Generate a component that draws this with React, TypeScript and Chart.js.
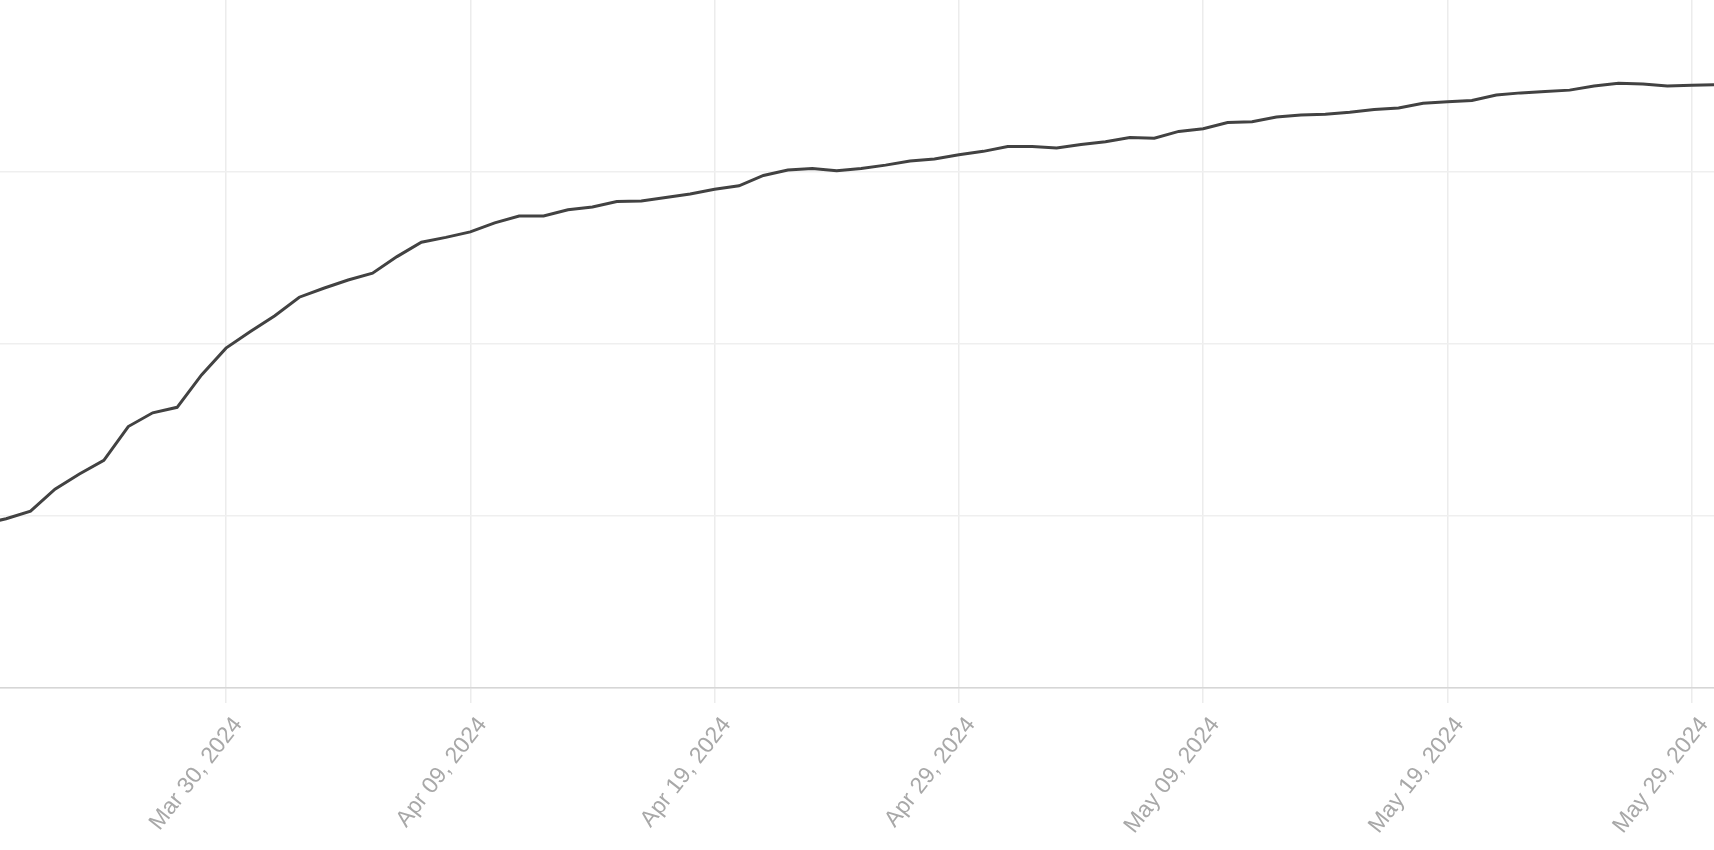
import React, { useEffect, useRef } from "react";
import { Chart, registerables } from "chart.js";

Chart.register(...registerables);

const dates: string[] = [
  "2024-03-20", "2024-03-21", "2024-03-22", "2024-03-23", "2024-03-24", "2024-03-25", "2024-03-26", "2024-03-27", "2024-03-28", "2024-03-29",
  "2024-03-30", "2024-03-31", "2024-04-01", "2024-04-02", "2024-04-03", "2024-04-04", "2024-04-05", "2024-04-06", "2024-04-07", "2024-04-08",
  "2024-04-09", "2024-04-10", "2024-04-11", "2024-04-12", "2024-04-13", "2024-04-14", "2024-04-15", "2024-04-16", "2024-04-17", "2024-04-18",
  "2024-04-19", "2024-04-20", "2024-04-21", "2024-04-22", "2024-04-23", "2024-04-24", "2024-04-25", "2024-04-26", "2024-04-27", "2024-04-28",
  "2024-04-29", "2024-04-30", "2024-05-01", "2024-05-02", "2024-05-03", "2024-05-04", "2024-05-05", "2024-05-06", "2024-05-07", "2024-05-08",
  "2024-05-09", "2024-05-10", "2024-05-11", "2024-05-12", "2024-05-13", "2024-05-14", "2024-05-15", "2024-05-16", "2024-05-17", "2024-05-18",
  "2024-05-19", "2024-05-20", "2024-05-21", "2024-05-22", "2024-05-23", "2024-05-24", "2024-05-25", "2024-05-26", "2024-05-27", "2024-05-28",
  "2024-05-29", "2024-05-30",
];

const values: number[] = [
  23.8, 24.6, 25.7, 28.9, 31.1, 33.1, 38.0, 40.0, 40.8, 45.5,
  49.4, 51.8, 54.1, 56.8, 58.1, 59.3, 60.3, 62.7, 64.8, 65.5,
  66.3, 67.6, 68.6, 68.6, 69.5, 69.9, 70.7, 70.8, 71.3, 71.8,
  72.5, 73.0, 74.5, 75.3, 75.5, 75.2, 75.5, 76.0, 76.6, 76.9,
  77.5, 78.0, 78.7, 78.7, 78.5, 79.0, 79.4, 80.0, 79.9, 80.9,
  81.3, 82.2, 82.3, 83.0, 83.3, 83.4, 83.7, 84.1, 84.3, 85.0,
  85.2, 85.4, 86.2, 86.5, 86.7, 86.9, 87.5, 87.9, 87.8, 87.5,
  87.6, 87.7,
];

const tickDates: string[] = [
  "2024-03-30", "2024-04-09", "2024-04-19", "2024-04-29", "2024-05-09", "2024-05-19", "2024-05-29",
];
const tickLabels: string[] = [
  "Mar 30, 2024", "Apr 09, 2024", "Apr 19, 2024", "Apr 29, 2024", "May 09, 2024", "May 19, 2024", "May 29, 2024",
];

const yTicks: number[] = [0, 25, 50, 75];

const DAY = 86400000;
const t0 = Date.parse(dates[0]);
const dayOf = (d: string) => Math.round((Date.parse(d) - t0) / DAY);

export default function App() {
  const ref = useRef<HTMLCanvasElement | null>(null);

  useEffect(() => {
    if (!ref.current) return;
    const points = dates.map((d, i) => ({ x: dayOf(d), y: values[i] }));
    const tickDays = tickDates.map(dayOf);
    const chart = new Chart(ref.current, {
      type: "line",
      data: {
        datasets: [
          {
            data: points,
            borderColor: "#424242",
            borderWidth: 3,
            pointRadius: 0,
            tension: 0,
            fill: false,
          },
        ],
      },
      options: {
        animation: false,
        responsive: false,
        events: [],
        layout: { padding: 0 },
        plugins: { legend: { display: false }, tooltip: { enabled: false } },
        scales: {
          x: {
            type: "linear",
            min: 0.75,
            max: 70.91,
            afterBuildTicks: (scale: any) => {
              scale.ticks = tickDays.map((v) => ({ value: v }));
            },
            afterFit: (scale: any) => {
              scale.height = 162;
              scale.paddingLeft = 0;
              scale.paddingRight = 0;
            },
            grid: {
              color: "#ececec",
              lineWidth: 1.5,
              drawTicks: true,
              tickLength: 15,
            },
            border: { display: true, color: "#d6d6d6", width: 1.5 },
            ticks: {
              autoSkip: false,
              minRotation: 52,
              maxRotation: 52,
              color: "#a8a8a8",
              padding: 9,
              labelOffset: 12,
              font: { family: "'Liberation Sans', Arial, Helvetica, sans-serif", size: 23 },
              callback: (v: any) => {
                const i = tickDays.indexOf(Number(v));
                return i >= 0 ? tickLabels[i] : "";
              },
            },
          },
          y: {
            type: "linear",
            min: 0,
            max: 100,
            afterBuildTicks: (scale: any) => {
              scale.ticks = yTicks.map((v) => ({ value: v }));
            },
            afterFit: (scale: any) => {
              scale.width = 0;
            },
            grid: { color: "#efefef", lineWidth: 1.5, drawTicks: false },
            border: { display: false },
            ticks: { display: false },
          },
        },
      },
    });
    return () => chart.destroy();
  }, []);

  return (
    <canvas
      ref={ref}
      width={1714}
      height={850}
      style={{ position: "absolute", left: 0, top: 0, display: "block" }}
    />
  );
}
